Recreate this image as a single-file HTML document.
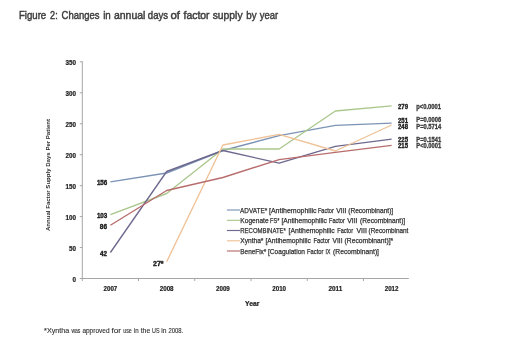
<!DOCTYPE html><html><head><meta charset="utf-8"><style>html,body{margin:0;padding:0;background:#fff;}body{width:520px;height:354px;overflow:hidden;position:relative;}svg{position:absolute;left:0;top:0;filter:blur(0.5px);}text{font-family:"Liberation Sans", sans-serif;}.b{font-weight:bold;fill:#222;stroke:#222;stroke-width:0.2px;}.d{font-weight:bold;fill:#1a1a1a;stroke:#1a1a1a;stroke-width:0.35px;}</style></head><body>
<svg width="520" height="354" viewBox="0 0 520 354">
<rect width="520" height="354" fill="#fff"/>
<text x="18.9" y="19.3" font-size="10.7" fill="#3d3d3d" stroke="#3d3d3d" stroke-width="0.45" textLength="27.3" lengthAdjust="spacingAndGlyphs">Figure</text>
<text x="50.1" y="19.3" font-size="10.7" fill="#3d3d3d" stroke="#3d3d3d" stroke-width="0.45" textLength="7.6" lengthAdjust="spacingAndGlyphs">2:</text>
<text x="61.6" y="19.3" font-size="10.7" fill="#3d3d3d" stroke="#3d3d3d" stroke-width="0.45" textLength="38.0" lengthAdjust="spacingAndGlyphs">Changes</text>
<text x="103.2" y="19.3" font-size="10.7" fill="#3d3d3d" stroke="#3d3d3d" stroke-width="0.45" textLength="7.6" lengthAdjust="spacingAndGlyphs">in</text>
<text x="113.9" y="19.3" font-size="10.7" fill="#3d3d3d" stroke="#3d3d3d" stroke-width="0.45" textLength="31.5" lengthAdjust="spacingAndGlyphs">annual</text>
<text x="147.8" y="19.3" font-size="10.7" fill="#3d3d3d" stroke="#3d3d3d" stroke-width="0.45" textLength="20.3" lengthAdjust="spacingAndGlyphs">days</text>
<text x="170.5" y="19.3" font-size="10.7" fill="#3d3d3d" stroke="#3d3d3d" stroke-width="0.45" textLength="9.5" lengthAdjust="spacingAndGlyphs">of</text>
<text x="183.5" y="19.3" font-size="10.7" fill="#3d3d3d" stroke="#3d3d3d" stroke-width="0.45" textLength="26.1" lengthAdjust="spacingAndGlyphs">factor</text>
<text x="212.7" y="19.3" font-size="10.7" fill="#3d3d3d" stroke="#3d3d3d" stroke-width="0.45" textLength="29.9" lengthAdjust="spacingAndGlyphs">supply</text>
<text x="246.3" y="19.3" font-size="10.7" fill="#3d3d3d" stroke="#3d3d3d" stroke-width="0.45" textLength="10.3" lengthAdjust="spacingAndGlyphs">by</text>
<text x="259.8" y="19.3" font-size="10.7" fill="#3d3d3d" stroke="#3d3d3d" stroke-width="0.45" textLength="18.4" lengthAdjust="spacingAndGlyphs">year</text>
<line x1="82.3" y1="61.2" x2="82.3" y2="278.5" stroke="#a6a6a6" stroke-width="1"/>
<line x1="80.3" y1="278.5" x2="408.8" y2="278.5" stroke="#a6a6a6" stroke-width="1"/>
<line x1="79.8" y1="278.50" x2="82.3" y2="278.50" stroke="#a6a6a6" stroke-width="1"/>
<text x="72.5" y="281.60" font-size="6.4" class="b" textLength="3.5" lengthAdjust="spacingAndGlyphs">0</text>
<line x1="79.8" y1="247.55" x2="82.3" y2="247.55" stroke="#a6a6a6" stroke-width="1"/>
<text x="69.0" y="250.65" font-size="6.4" class="b" textLength="7.0" lengthAdjust="spacingAndGlyphs">50</text>
<line x1="79.8" y1="216.60" x2="82.3" y2="216.60" stroke="#a6a6a6" stroke-width="1"/>
<text x="65.5" y="219.70" font-size="6.4" class="b" textLength="10.5" lengthAdjust="spacingAndGlyphs">100</text>
<line x1="79.8" y1="185.65" x2="82.3" y2="185.65" stroke="#a6a6a6" stroke-width="1"/>
<text x="65.5" y="188.75" font-size="6.4" class="b" textLength="10.5" lengthAdjust="spacingAndGlyphs">150</text>
<line x1="79.8" y1="154.70" x2="82.3" y2="154.70" stroke="#a6a6a6" stroke-width="1"/>
<text x="65.5" y="157.80" font-size="6.4" class="b" textLength="10.5" lengthAdjust="spacingAndGlyphs">200</text>
<line x1="79.8" y1="123.75" x2="82.3" y2="123.75" stroke="#a6a6a6" stroke-width="1"/>
<text x="65.5" y="126.85" font-size="6.4" class="b" textLength="10.5" lengthAdjust="spacingAndGlyphs">250</text>
<line x1="79.8" y1="92.80" x2="82.3" y2="92.80" stroke="#a6a6a6" stroke-width="1"/>
<text x="65.5" y="95.90" font-size="6.4" class="b" textLength="10.5" lengthAdjust="spacingAndGlyphs">300</text>
<line x1="79.8" y1="61.85" x2="82.3" y2="61.85" stroke="#a6a6a6" stroke-width="1"/>
<text x="65.5" y="64.95" font-size="6.4" class="b" textLength="10.5" lengthAdjust="spacingAndGlyphs">350</text>
<line x1="82.30" y1="278.5" x2="82.30" y2="281.0" stroke="#a6a6a6" stroke-width="1"/>
<text x="103.52" y="290.5" font-size="6.3" class="b" textLength="13.8" lengthAdjust="spacingAndGlyphs">2007</text>
<line x1="138.54" y1="278.5" x2="138.54" y2="281.0" stroke="#a6a6a6" stroke-width="1"/>
<text x="159.76" y="290.5" font-size="6.3" class="b" textLength="13.8" lengthAdjust="spacingAndGlyphs">2008</text>
<line x1="194.78" y1="278.5" x2="194.78" y2="281.0" stroke="#a6a6a6" stroke-width="1"/>
<text x="216.00" y="290.5" font-size="6.3" class="b" textLength="13.8" lengthAdjust="spacingAndGlyphs">2009</text>
<line x1="251.02" y1="278.5" x2="251.02" y2="281.0" stroke="#a6a6a6" stroke-width="1"/>
<text x="272.24" y="290.5" font-size="6.3" class="b" textLength="13.8" lengthAdjust="spacingAndGlyphs">2010</text>
<line x1="307.26" y1="278.5" x2="307.26" y2="281.0" stroke="#a6a6a6" stroke-width="1"/>
<text x="328.48" y="290.5" font-size="6.3" class="b" textLength="13.8" lengthAdjust="spacingAndGlyphs">2011</text>
<line x1="363.50" y1="278.5" x2="363.50" y2="281.0" stroke="#a6a6a6" stroke-width="1"/>
<text x="384.72" y="290.5" font-size="6.3" class="b" textLength="13.8" lengthAdjust="spacingAndGlyphs">2012</text>
<text x="252.3" y="306.2" font-size="6.8" class="b" text-anchor="middle">Year</text>
<text transform="translate(50.2,175) rotate(-90)" x="0" y="0" font-size="6.2" font-weight="bold" fill="#2a2a2a" text-anchor="middle" textLength="112" lengthAdjust="spacingAndGlyphs">Annual Factor Supply Days Per Patient</text>
<polyline points="110.42,181.90 166.66,173.00 222.90,150.50 279.14,135.60 335.38,125.40 391.62,123.10" fill="none" stroke="#7b93b5" stroke-width="1.35" stroke-linejoin="round"/>
<polyline points="110.42,214.70 166.66,193.50 222.90,149.00 279.14,149.00 335.38,111.00 391.62,105.80" fill="none" stroke="#aac78c" stroke-width="1.35" stroke-linejoin="round"/>
<polyline points="110.42,252.50 166.66,171.50 222.90,150.50 279.14,163.20 335.38,146.30 391.62,139.20" fill="none" stroke="#6f688e" stroke-width="1.35" stroke-linejoin="round"/>
<polyline points="166.66,261.80 222.90,145.00 279.14,134.40 335.38,151.00 391.62,125.00" fill="none" stroke="#efc297" stroke-width="1.35" stroke-linejoin="round"/>
<polyline points="110.42,225.30 166.66,190.50 222.90,177.50 279.14,159.60 335.38,152.30 391.62,145.40" fill="none" stroke="#b86c6c" stroke-width="1.35" stroke-linejoin="round"/>
<text x="96.9" y="184.70" font-size="6.3" class="d" textLength="10.4" lengthAdjust="spacingAndGlyphs">156</text>
<text x="96.9" y="217.90" font-size="6.3" class="d" textLength="10.4" lengthAdjust="spacingAndGlyphs">103</text>
<text x="99.8" y="229.10" font-size="6.3" class="d" textLength="7.2" lengthAdjust="spacingAndGlyphs">86</text>
<text x="100.0" y="256.20" font-size="6.3" class="d" textLength="7.0" lengthAdjust="spacingAndGlyphs">42</text>
<text x="153" y="265.6" font-size="6.3" class="d" textLength="10.6" lengthAdjust="spacingAndGlyphs">27*</text>
<text x="398.0" y="108.90" font-size="6.3" class="d" textLength="10.0" lengthAdjust="spacingAndGlyphs">279</text>
<text x="416.3" y="108.60" font-size="6.4" font-weight="bold" fill="#3a3a3a" stroke="#3a3a3a" stroke-width="0.3" textLength="24.8" lengthAdjust="spacingAndGlyphs">p&lt;0.0001</text>
<text x="398.0" y="122.50" font-size="6.3" class="d" textLength="10.0" lengthAdjust="spacingAndGlyphs">251</text>
<text x="416.3" y="122.20" font-size="6.4" font-weight="bold" fill="#3a3a3a" stroke="#3a3a3a" stroke-width="0.3" textLength="24.8" lengthAdjust="spacingAndGlyphs">P=0.0006</text>
<text x="398.0" y="129.20" font-size="6.3" class="d" textLength="10.0" lengthAdjust="spacingAndGlyphs">248</text>
<text x="416.3" y="128.90" font-size="6.4" font-weight="bold" fill="#3a3a3a" stroke="#3a3a3a" stroke-width="0.3" textLength="24.8" lengthAdjust="spacingAndGlyphs">P=0.5714</text>
<text x="398.0" y="142.20" font-size="6.3" class="d" textLength="10.0" lengthAdjust="spacingAndGlyphs">225</text>
<text x="416.3" y="141.90" font-size="6.4" font-weight="bold" fill="#3a3a3a" stroke="#3a3a3a" stroke-width="0.3" textLength="24.8" lengthAdjust="spacingAndGlyphs">P=0.1541</text>
<text x="398.0" y="148.20" font-size="6.3" class="d" textLength="10.0" lengthAdjust="spacingAndGlyphs">215</text>
<text x="416.3" y="147.90" font-size="6.4" font-weight="bold" fill="#3a3a3a" stroke="#3a3a3a" stroke-width="0.3" textLength="24.8" lengthAdjust="spacingAndGlyphs">P&lt;0.0001</text>
<line x1="226.9" y1="210.00" x2="240" y2="210.00" stroke="#7b93b5" stroke-width="1.15"/>
<text x="240.1" y="212.60" font-size="6.9" fill="#333" stroke="#333" stroke-width="0.25" textLength="27.1" lengthAdjust="spacingAndGlyphs">ADVATE*</text>
<text x="269.0" y="212.60" font-size="6.9" fill="#333" stroke="#333" stroke-width="0.25" textLength="47.5" lengthAdjust="spacingAndGlyphs">[Antihemophilic</text>
<text x="317.9" y="212.60" font-size="6.9" fill="#333" stroke="#333" stroke-width="0.25" textLength="15.9" lengthAdjust="spacingAndGlyphs">Factor</text>
<text x="336.3" y="212.60" font-size="6.9" fill="#333" stroke="#333" stroke-width="0.25" textLength="10.2" lengthAdjust="spacingAndGlyphs">VIII</text>
<text x="348.2" y="212.60" font-size="6.9" fill="#333" stroke="#333" stroke-width="0.25" textLength="45.0" lengthAdjust="spacingAndGlyphs">(Recombinant)]</text>
<line x1="226.9" y1="220.30" x2="240" y2="220.30" stroke="#aac78c" stroke-width="1.15"/>
<text x="240.3" y="222.90" font-size="6.9" fill="#333" stroke="#333" stroke-width="0.25" textLength="28.3" lengthAdjust="spacingAndGlyphs">Kogenate</text>
<text x="270.1" y="222.90" font-size="6.9" fill="#333" stroke="#333" stroke-width="0.25" textLength="9.4" lengthAdjust="spacingAndGlyphs">FS*</text>
<text x="281.4" y="222.90" font-size="6.9" fill="#333" stroke="#333" stroke-width="0.25" textLength="45.5" lengthAdjust="spacingAndGlyphs">[Antihemophilic</text>
<text x="329.0" y="222.90" font-size="6.9" fill="#333" stroke="#333" stroke-width="0.25" textLength="15.8" lengthAdjust="spacingAndGlyphs">Factor</text>
<text x="347.2" y="222.90" font-size="6.9" fill="#333" stroke="#333" stroke-width="0.25" textLength="10.3" lengthAdjust="spacingAndGlyphs">VIII</text>
<text x="360.0" y="222.90" font-size="6.9" fill="#333" stroke="#333" stroke-width="0.25" textLength="45.2" lengthAdjust="spacingAndGlyphs">(Recombinant)]</text>
<line x1="226.9" y1="230.50" x2="240" y2="230.50" stroke="#6f688e" stroke-width="1.15"/>
<text x="240.3" y="233.10" font-size="6.9" fill="#333" stroke="#333" stroke-width="0.25" textLength="45.6" lengthAdjust="spacingAndGlyphs">RECOMBINATE*</text>
<text x="288.5" y="233.10" font-size="6.9" fill="#333" stroke="#333" stroke-width="0.25" textLength="46.1" lengthAdjust="spacingAndGlyphs">[Antihemophilic</text>
<text x="337.3" y="233.10" font-size="6.9" fill="#333" stroke="#333" stroke-width="0.25" textLength="15.7" lengthAdjust="spacingAndGlyphs">Factor</text>
<text x="356.5" y="233.10" font-size="6.9" fill="#333" stroke="#333" stroke-width="0.25" textLength="10.3" lengthAdjust="spacingAndGlyphs">VIII</text>
<text x="368.6" y="233.10" font-size="6.9" fill="#333" stroke="#333" stroke-width="0.25" textLength="39.8" lengthAdjust="spacingAndGlyphs">(Recombinant</text>
<line x1="226.9" y1="240.80" x2="240" y2="240.80" stroke="#efc297" stroke-width="1.15"/>
<text x="240.3" y="243.40" font-size="6.9" fill="#333" stroke="#333" stroke-width="0.25" textLength="23.1" lengthAdjust="spacingAndGlyphs">Xyntha*</text>
<text x="265.5" y="243.40" font-size="6.9" fill="#333" stroke="#333" stroke-width="0.25" textLength="45.3" lengthAdjust="spacingAndGlyphs">[Antihemophilic</text>
<text x="313.4" y="243.40" font-size="6.9" fill="#333" stroke="#333" stroke-width="0.25" textLength="16.4" lengthAdjust="spacingAndGlyphs">Factor</text>
<text x="332.5" y="243.40" font-size="6.9" fill="#333" stroke="#333" stroke-width="0.25" textLength="10.0" lengthAdjust="spacingAndGlyphs">VIII</text>
<text x="344.6" y="243.40" font-size="6.9" fill="#333" stroke="#333" stroke-width="0.25" textLength="48.6" lengthAdjust="spacingAndGlyphs">(Recombinant)]*</text>
<line x1="226.9" y1="251.00" x2="240" y2="251.00" stroke="#b86c6c" stroke-width="1.15"/>
<text x="240.3" y="253.60" font-size="6.9" fill="#333" stroke="#333" stroke-width="0.25" textLength="26.0" lengthAdjust="spacingAndGlyphs">BeneFix*</text>
<text x="268.0" y="253.60" font-size="6.9" fill="#333" stroke="#333" stroke-width="0.25" textLength="37.0" lengthAdjust="spacingAndGlyphs">[Coagulation</text>
<text x="307.1" y="253.60" font-size="6.9" fill="#333" stroke="#333" stroke-width="0.25" textLength="16.3" lengthAdjust="spacingAndGlyphs">Factor</text>
<text x="325.6" y="253.60" font-size="6.9" fill="#333" stroke="#333" stroke-width="0.25" textLength="4.8" lengthAdjust="spacingAndGlyphs">IX</text>
<text x="333.1" y="253.60" font-size="6.9" fill="#333" stroke="#333" stroke-width="0.25" textLength="45.9" lengthAdjust="spacingAndGlyphs">(Recombinant)]</text>
<text x="44.1" y="332.6" font-size="6.8" fill="#333" stroke="#333" stroke-width="0.12" textLength="25.2" lengthAdjust="spacingAndGlyphs">*Xyntha</text>
<text x="71.4" y="332.6" font-size="6.8" fill="#333" stroke="#333" stroke-width="0.12" textLength="9.0" lengthAdjust="spacingAndGlyphs">was</text>
<text x="82.4" y="332.6" font-size="6.8" fill="#333" stroke="#333" stroke-width="0.12" textLength="27.1" lengthAdjust="spacingAndGlyphs">approved</text>
<text x="111.4" y="332.6" font-size="6.8" fill="#333" stroke="#333" stroke-width="0.12" textLength="9.7" lengthAdjust="spacingAndGlyphs">for</text>
<text x="123.2" y="332.6" font-size="6.8" fill="#333" stroke="#333" stroke-width="0.12" textLength="8.6" lengthAdjust="spacingAndGlyphs">use</text>
<text x="134.0" y="332.6" font-size="6.8" fill="#333" stroke="#333" stroke-width="0.12" textLength="4.8" lengthAdjust="spacingAndGlyphs">in</text>
<text x="140.7" y="332.6" font-size="6.8" fill="#333" stroke="#333" stroke-width="0.12" textLength="9.6" lengthAdjust="spacingAndGlyphs">the</text>
<text x="152.0" y="332.6" font-size="6.8" fill="#333" stroke="#333" stroke-width="0.12" textLength="7.5" lengthAdjust="spacingAndGlyphs">US</text>
<text x="161.3" y="332.6" font-size="6.8" fill="#333" stroke="#333" stroke-width="0.12" textLength="5.2" lengthAdjust="spacingAndGlyphs">in</text>
<text x="168.4" y="332.6" font-size="6.8" fill="#333" stroke="#333" stroke-width="0.12" textLength="14.7" lengthAdjust="spacingAndGlyphs">2008.</text>
</svg></body></html>
